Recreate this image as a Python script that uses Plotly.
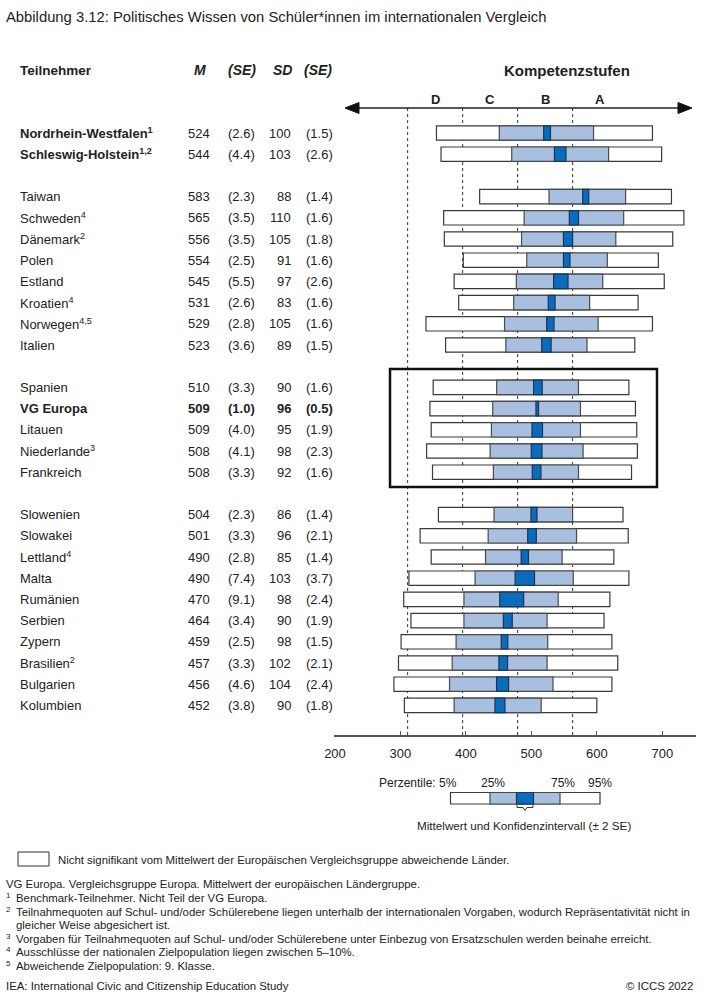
import plotly.graph_objects as go

# ---------------- data ----------------
countries = ["Nordrhein-Westfalen<sup>1</sup>", "Schleswig-Holstein<sup>1,2</sup>",
             "Taiwan", "Schweden<sup>4</sup>", "Dänemark<sup>2</sup>", "Polen", "Estland",
             "Kroatien<sup>4</sup>", "Norwegen<sup>4,5</sup>", "Italien",
             "Spanien", "VG Europa", "Litauen", "Niederlande<sup>3</sup>", "Frankreich",
             "Slowenien", "Slowakei", "Lettland<sup>4</sup>", "Malta", "Rumänien", "Serbien",
             "Zypern", "Brasilien<sup>2</sup>", "Bulgarien", "Kolumbien"]
group = [0, 0, 1, 1, 1, 1, 1, 1, 1, 1, 2, 2, 2, 2, 2, 3, 3, 3, 3, 3, 3, 3, 3, 3, 3]
bold_names = ["Nordrhein-Westfalen<sup>1</sup>", "Schleswig-Holstein<sup>1,2</sup>", "VG Europa"]
bold_rows = ["VG Europa"]

mean = [524, 544, 583, 565, 556, 554, 545, 531, 529, 523,
        510, 509, 509, 508, 508, 504, 501, 490, 490, 470, 464, 459, 457, 456, 452]
se = [2.6, 4.4, 2.3, 3.5, 3.5, 2.5, 5.5, 2.6, 2.8, 3.6,
      3.3, 1.0, 4.0, 4.1, 3.3, 2.3, 3.3, 2.8, 7.4, 9.1, 3.4, 2.5, 3.3, 4.6, 3.8]
sd = [100, 103, 88, 110, 105, 91, 97, 83, 105, 89,
      90, 96, 95, 98, 92, 86, 96, 85, 103, 98, 90, 98, 102, 104, 90]
sd_se = [1.5, 2.6, 1.4, 1.6, 1.8, 1.6, 2.6, 1.6, 1.6, 1.5,
         1.6, 0.5, 1.9, 2.3, 1.6, 1.4, 2.1, 1.4, 3.7, 2.4, 1.9, 1.5, 2.1, 2.4, 1.8]
p5 = [355, 362, 421, 366, 367, 396, 382, 389, 339, 369,
      350, 345, 347, 340, 349, 358, 330, 347, 313, 305, 316, 301, 297, 290, 306]
p25 = [451, 470, 527, 489, 485, 493, 477, 473, 459, 461,
       447, 441, 439, 437, 442, 443, 434, 430, 414, 397, 397, 385, 379, 375, 382]
p75 = [595, 618, 644, 641, 629, 616, 609, 589, 602, 585,
       572, 575, 575, 579, 572, 563, 569, 547, 564, 541, 524, 525, 524, 533, 515]
p95 = [685, 699, 714, 733, 716, 694, 703, 663, 685, 658,
       649, 659, 661, 662, 653, 640, 648, 626, 649, 620, 611, 623, 632, 623, 600]

level_cuts = [311, 395, 479, 563]
level_labels = ["D", "C", "B", "A"]
level_label_pos = [353, 437, 521, 605]
x_ticks = [200, 300, 400, 500, 600, 700]

# ---------------- layout helpers ----------------
W, H = 712, 1000
FONT = "Liberation Sans, Arial, sans-serif"
NOTEFONT = "Liberation Sans, Arial, sans-serif"
TXT = "#222222"


def X(px):
    return px / W


def Y(py):
    return 1 - py / H


slots = [i + g for i, g in enumerate(group)]
ROW0, ROWH = 133, 21.2
AX_TOP, AX_BOT = 95, 735
y_lo = (AX_BOT - ROW0) / ROWH
y_hi = (AX_TOP - ROW0) / ROWH

annotations = []
shapes = []


def ann(text, px, py, size=13, anchor="left", color=TXT, font=FONT):
    annotations.append(dict(text=text, x=X(px), y=Y(py), xref="paper", yref="paper",
                            xanchor=anchor, yanchor="middle", showarrow=False,
                            font=dict(family=font, size=size, color=color)))


fig = go.Figure()

ci_lo = [m - 2 * s for m, s in zip(mean, se)]
ci_w = [4 * s for s in se]
BW = 0.68
fig.add_trace(go.Bar(y=slots, base=p5, x=[b - a for a, b in zip(p5, p95)], orientation="h",
                     width=BW, marker=dict(color="white", line=dict(color="#3a3a3a", width=1.2)),
                     hoverinfo="skip", showlegend=False))
fig.add_trace(go.Bar(y=slots, base=p25, x=[b - a for a, b in zip(p25, p75)], orientation="h",
                     width=BW, marker=dict(color="#a9bfe0", line=dict(color="#4a4a4a", width=1.2)),
                     hoverinfo="skip", showlegend=False))
fig.add_trace(go.Bar(y=slots, base=ci_lo, x=ci_w, orientation="h",
                     width=BW, marker=dict(color="#0a6cbe", line=dict(color="#1d3550", width=1.2)),
                     hoverinfo="skip", showlegend=False))

# dashed level lines
for c in level_cuts:
    shapes.append(dict(type="line", xref="x", yref="paper", x0=c, x1=c,
                       y0=Y(108), y1=Y(AX_BOT), layer="below",
                       line=dict(color="#333333", width=1, dash="3px,3px")))
for lab, pos in zip(level_labels, level_label_pos):
    annotations.append(dict(text="<b>%s</b>" % lab, x=pos, y=Y(100), xref="x", yref="paper",
                            xanchor="center", yanchor="middle", showarrow=False,
                            font=dict(family=FONT, size=13, color=TXT)))

# top double arrow
shapes.append(dict(type="line", xref="paper", yref="paper", x0=X(355), x1=X(682),
                   y0=Y(108), y1=Y(108), line=dict(color="#222222", width=1.5)))
shapes.append(dict(type="path", xref="paper", yref="paper",
                   path="M %f %f L %f %f L %f %f Z" % (X(345), Y(108), X(359), Y(102.5), X(359), Y(113.5)),
                   fillcolor="#111111", line=dict(color="#111111", width=1)))
shapes.append(dict(type="path", xref="paper", yref="paper",
                   path="M %f %f L %f %f L %f %f Z" % (X(692), Y(108), X(678), Y(102.5), X(678), Y(113.5)),
                   fillcolor="#111111", line=dict(color="#111111", width=1)))

# highlight box
shapes.append(dict(type="rect", xref="paper", yref="paper", x0=X(390), x1=X(657),
                   y0=Y(369), y1=Y(487), line=dict(color="#111111", width=2.5)))

# title and headers
ann("Abbildung 3.12: Politisches Wissen von Schüler*innen im internationalen Vergleich", 4, 17, size=14.8)
ann("<b>Teilnehmer</b>", 18, 70, size=13.5)
ann("<b><i>M</i></b>", 200, 70, size=14, anchor="center")
ann("<b><i>(SE)</i></b>", 242, 70, size=14, anchor="center")
ann("<b><i>SD</i></b>", 282, 70, size=14, anchor="center")
ann("<b><i>(SE)</i></b>", 318, 70, size=14, anchor="center")
ann("<b>Kompetenzstufen</b>", 567, 70, size=15, anchor="center")

# table rows
for i, name in enumerate(countries):
    py = ROW0 + slots[i] * ROWH
    nm = "<b>%s</b>" % name if name in bold_names else name
    ann(nm, 18, py, size=13)
    vals = ["%d" % mean[i], "(%.1f)" % se[i], "%d" % sd[i], "(%.1f)" % sd_se[i]]
    if name in bold_rows:
        vals = ["<b>%s</b>" % v for v in vals]
    for v, rx in zip(vals, [212, 257, 293, 335]):
        ann(v, rx, py, size=13, anchor="right")

# legend (percentile explanation)
ann("Perzentile:", 377, 783, size=12)
ann("5%", 448, 783, size=12, anchor="center")
ann("25%", 493, 783, size=12, anchor="center")
ann("75%", 563, 783, size=12, anchor="center")
ann("95%", 600, 783, size=12, anchor="center")
shapes.append(dict(type="rect", xref="paper", yref="paper", x0=X(450.5), x1=X(600),
                   y0=Y(792.5), y1=Y(804), fillcolor="white", line=dict(color="#3a3a3a", width=1.2)))
shapes.append(dict(type="rect", xref="paper", yref="paper", x0=X(490), x1=X(560),
                   y0=Y(792.5), y1=Y(804), fillcolor="#a9bfe0", line=dict(color="#4a4a4a", width=1.2)))
shapes.append(dict(type="rect", xref="paper", yref="paper", x0=X(516.5), x1=X(533.5),
                   y0=Y(792.5), y1=Y(804), fillcolor="#0a6cbe", line=dict(color="#1d3550", width=1.2)))
shapes.append(dict(type="path", xref="paper", yref="paper",
                   path="M %f %f L %f %f L %f %f L %f %f L %f %f L %f %f L %f %f" % (
                       X(517), Y(805), X(517), Y(807.5), X(523), Y(807.5), X(525), Y(810.5),
                       X(527), Y(807.5), X(533), Y(807.5), X(533), Y(805)),
                   line=dict(color="#333333", width=1)))
ann("Mittelwert und Konfidenzintervall (± 2 SE)", 524, 825, size=11.7, anchor="center")

# bottom legend box + notes
NS = 11.4
shapes.append(dict(type="rect", xref="paper", yref="paper", x0=X(18), x1=X(49),
                   y0=Y(852), y1=Y(866), line=dict(color="#333333", width=1)))
ann("Nicht signifikant vom Mittelwert der Europäischen Vergleichsgruppe abweichende Länder.",
    56, 860, size=NS, font=NOTEFONT)
ann("VG Europa. Vergleichsgruppe Europa. Mittelwert der europäischen Ländergruppe.", 4, 884,
    size=NS, font=NOTEFONT)
notes = [("1", "Benchmark-Teilnehmer. Nicht Teil der VG Europa.", 898),
         ("2", "Teilnahmequoten auf Schul- und/oder Schülerebene liegen unterhalb der internationalen Vorgaben, wodurch Repräsentativität nicht in", 912),
         ("", "gleicher Weise abgesichert ist.", 925),
         ("3", "Vorgaben für Teilnahmequoten auf Schul- und/oder Schülerebene unter Einbezug von Ersatzschulen werden beinahe erreicht.", 939),
         ("4", "Ausschlüsse der nationalen Zielpopulation liegen zwischen 5–10%.", 952),
         ("5", "Abweichende Zielpopulation: 9. Klasse.", 966)]
for num, txt, py in notes:
    if num:
        ann(num, 4, py - 3, size=8, font=NOTEFONT)
    ann(txt, 14, py, size=NS, font=NOTEFONT)
ann("IEA: International Civic and Citizenship Education Study", 4, 986, size=NS, font=NOTEFONT)
ann("© ICCS 2022", 695, 986, size=NS, anchor="right", font=NOTEFONT)

fig.update_layout(
    width=W, height=H, margin=dict(l=0, r=0, t=0, b=0, autoexpand=False),
    paper_bgcolor="white", plot_bgcolor="white",
    barmode="overlay", showlegend=False,
    annotations=annotations, shapes=shapes,
    xaxis=dict(domain=[X(334), X(696)], range=[198.5, 751.5], showgrid=False, zeroline=False,
               tickvals=x_ticks, ticks="inside", ticklen=4, tickcolor="#555555", tickwidth=1.2,
               showline=True, linecolor="#555555", linewidth=1.5, automargin=False,
               tickfont=dict(family=FONT, size=13, color=TXT), ticklabelstandoff=6,
               anchor="y", fixedrange=True),
    yaxis=dict(domain=[Y(AX_BOT), Y(AX_TOP)], range=[y_lo, y_hi], visible=False,
               automargin=False, fixedrange=True),
)

fig.write_html("out.html", config={"displayModeBar": False},
               post_script="document.body.style.margin='0';document.body.style.overflow='hidden';")
